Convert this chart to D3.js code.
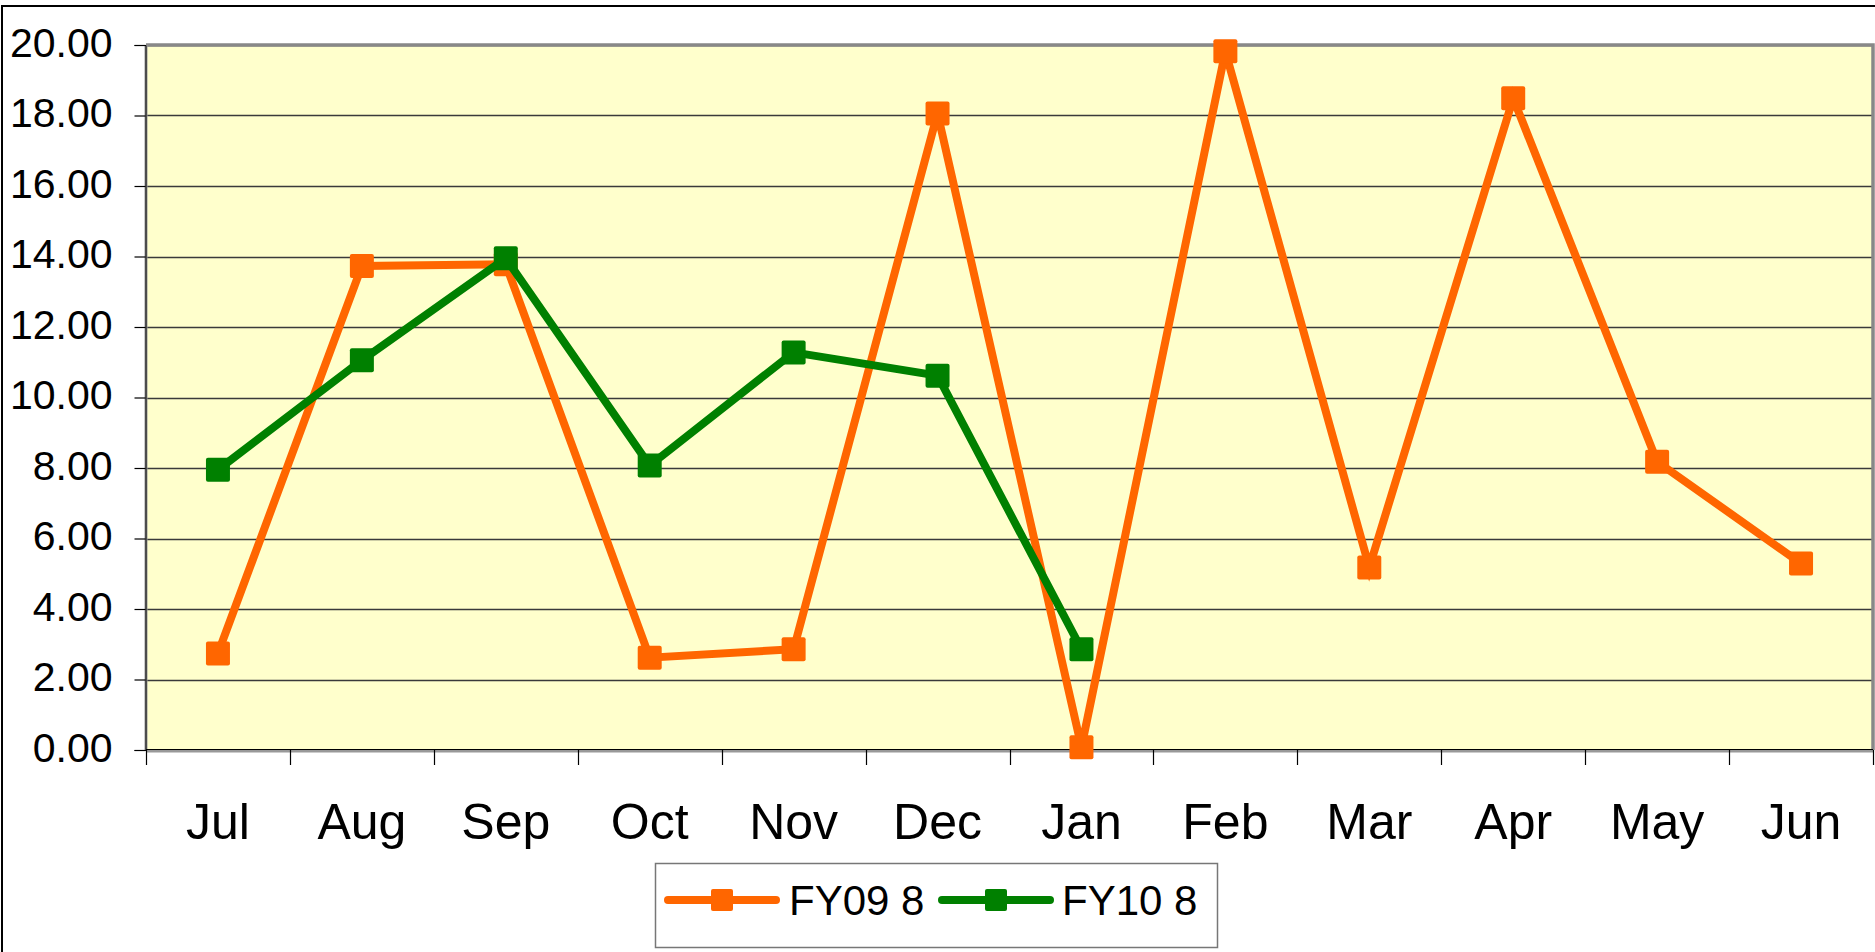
<!DOCTYPE html>
<html>
<head>
<meta charset="utf-8">
<script src="https://cdn.jsdelivr.net/npm/d3@7/dist/d3.min.js"></script>
<style>
  html, body { margin: 0; padding: 0; background: #fff; }
  svg { display: block; }
  text { font-family: "Liberation Sans", Arial, sans-serif; fill: #000; }
</style>
</head>
<body>
<svg id="chart" width="1875" height="952"></svg>
<script>
const months = ["Jul","Aug","Sep","Oct","Nov","Dec","Jan","Feb","Mar","Apr","May","Jun"];
const fy09 = [2.74, 13.73, 13.78, 2.62, 2.86, 18.06, 0.08, 19.82, 5.18, 18.49, 8.18, 5.29];
const fy10 = [7.95, 11.06, 13.95, 8.07, 11.28, 10.62, 2.86];
const yTicks = [0, 2, 4, 6, 8, 10, 12, 14, 16, 18, 20];
const seriesNames = ["FY09 8", "FY10 8"];
const seriesColors = ["#FF6600", "#008000"];

const svg = d3.select("#chart");
const L = 146, R = 1873, T = 45, B = 750;

// outer chart border
svg.append("path").attr("d", "M2,952 L2,6 L1875,6")
  .attr("fill", "none").attr("stroke", "#000").attr("stroke-width", 2);

const x = d3.scaleBand().domain(months).range([L, R]).padding(0);
const y = d3.scaleLinear().domain([0, 20]).range([B, T]);

// plot background
svg.append("rect").attr("x", L).attr("y", T).attr("width", R - L).attr("height", B - T)
  .attr("fill", "#FFFFCC");

// gridlines
svg.append("g").selectAll("line").data(yTicks.filter(d => d > 0)).join("line")
  .attr("x1", L).attr("x2", R)
  .attr("y1", d => Math.round(y(d)) + 0.5).attr("y2", d => Math.round(y(d)) + 0.5)
  .attr("stroke", "#3a3a3a").attr("stroke-width", 1.5);

// plot border (gray)
svg.append("path").attr("d", `M${L},${T} L${R},${T} L${R},${B}`)
  .attr("fill", "none").attr("stroke", "#888").attr("stroke-width", 3.5);
svg.append("line").attr("x1", L).attr("x2", L).attr("y1", T).attr("y2", B)
  .attr("stroke", "#999").attr("stroke-width", 3);
svg.append("line").attr("x1", L).attr("x2", R).attr("y1", B + 1).attr("y2", B + 1)
  .attr("stroke", "#999").attr("stroke-width", 3);

// y axis
const yAxis = d3.axisLeft(y).tickValues(yTicks).tickSize(11).tickPadding(22)
  .tickFormat(d3.format(".2f"));
const gy = svg.append("g").attr("transform", `translate(${L - 0.5},0)`).call(yAxis);
gy.select(".domain").attr("stroke", "#000").attr("stroke-width", 1);
gy.selectAll(".tick line").attr("stroke", "#000").attr("stroke-width", 1.2);
gy.selectAll(".tick text").attr("font-size", 41).attr("font-family", "Liberation Sans, Arial, sans-serif")
  .attr("dy", "0.28em").attr("fill", "#000");

// x axis: labels at band centers, ticks at boundaries
const gx = svg.append("g");
gx.append("line").attr("x1", L).attr("x2", R).attr("y1", B - 0.5).attr("y2", B - 0.5)
  .attr("stroke", "#000").attr("stroke-width", 1);
const bounds = months.map(m => x(m)).concat([R]);
gx.selectAll("line.tk").data(bounds).join("line").attr("class", "tk")
  .attr("x1", d => Math.round(d) + 0.5).attr("x2", d => Math.round(d) + 0.5)
  .attr("y1", B).attr("y2", B + 15).attr("stroke", "#000").attr("stroke-width", 1.2);
gx.selectAll("text").data(months).join("text")
  .attr("x", d => x(d) + x.bandwidth() / 2).attr("y", 839)
  .attr("text-anchor", "middle").attr("font-size", 50).text(d => d);

// series
const cx = (d, i) => x(months[i]) + x.bandwidth() / 2;
const line = d3.line().x(cx).y(d => y(d));
const ms = 24;
[fy09, fy10].forEach((data, si) => {
  const g = svg.append("g");
  g.append("path").datum(data).attr("d", line)
    .attr("fill", "none").attr("stroke", seriesColors[si]).attr("stroke-width", 8)
    .attr("stroke-linejoin", "miter");
  g.selectAll("rect").data(data).join("rect")
    .attr("x", (d, i) => cx(d, i) - ms / 2).attr("y", d => y(d) - ms / 2)
    .attr("width", ms).attr("height", ms).attr("rx", 2)
    .attr("fill", seriesColors[si]);
});

// legend
const lg = svg.append("g");
lg.append("rect").attr("x", 655.5).attr("y", 863.5).attr("width", 562).attr("height", 84)
  .attr("fill", "#fff").attr("stroke", "#777").attr("stroke-width", 1.5);
const legItems = [
  { x0: 668, x1: 776, tx: 789 },
  { x0: 942, x1: 1050, tx: 1062 }
];
legItems.forEach((it, i) => {
  lg.append("line").attr("x1", it.x0).attr("x2", it.x1).attr("y1", 900).attr("y2", 900)
    .attr("stroke", seriesColors[i]).attr("stroke-width", 8).attr("stroke-linecap", "round");
  const mx = (it.x0 + it.x1) / 2;
  lg.append("rect").attr("x", mx - 11).attr("y", 889).attr("width", 22).attr("height", 22)
    .attr("rx", 2).attr("fill", seriesColors[i]);
  lg.append("text").attr("x", it.tx).attr("y", 915).attr("font-size", 42)
    .text(seriesNames[i]);
});
</script>
</body>
</html>
